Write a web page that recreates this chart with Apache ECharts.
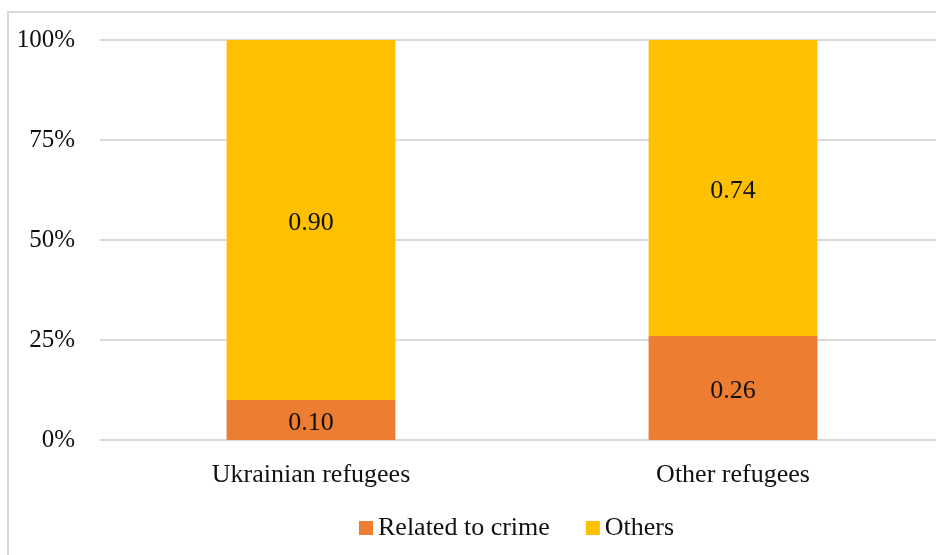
<!DOCTYPE html>
<html>
<head>
<meta charset="utf-8">
<script src="https://cdn.jsdelivr.net/npm/echarts@6/dist/echarts.min.js"></script>
<style>
  html, body { margin: 0; padding: 0; background: #fff; }
  #chart { width: 936px; height: 555px; }
</style>
</head>
<body>
<div id="chart"></div>
<script>
const categories = ['Ukrainian refugees', 'Other refugees']
const crimeValues = [0.10, 0.26]
const otherValues = [0.90, 0.74]
const seriesNames = ['Related to crime', 'Others']

const font = '"Liberation Serif", "Times New Roman", serif'
const chart = echarts.init(document.getElementById('chart'))

const barLabel = {
  show: true,
  position: 'inside',
  offset: [0, 3],
  fontFamily: font,
  fontSize: 26,
  color: '#111',
  formatter: function (p) {
    return p.value.toFixed(2)
  }
}

const option = {
  animation: false,
  textStyle: { fontFamily: font },
  graphic: [
    {
      type: 'rect',
      shape: { x: 8, y: 12, width: 1000, height: 600 },
      style: { fill: 'none', stroke: '#d9d9d9', lineWidth: 2 },
      silent: true
    }
  ],
  grid: {
    left: 100,
    width: 844,
    top: 40,
    bottom: 115,
    containLabel: false,
    outerBoundsMode: 'none'
  },
  legend: {
    left: 354,
    top: 510,
    icon: 'rect',
    itemWidth: 14,
    itemHeight: 14,
    itemGap: 36,
    textStyle: { fontFamily: font, fontSize: 26, color: '#111' },
    data: seriesNames
  },
  xAxis: {
    type: 'category',
    data: categories,
    axisLine: { show: false },
    axisTick: { show: false },
    axisLabel: { fontFamily: font, fontSize: 26, color: '#111', margin: 22 }
  },
  yAxis: {
    type: 'value',
    min: 0,
    max: 1,
    interval: 0.25,
    axisLine: { show: false },
    axisTick: { show: false },
    axisLabel: {
      fontFamily: font,
      fontSize: 25,
      color: '#111',
      margin: 25,
      padding: [5, 0, 0, 0],
      formatter: function (v) {
        return Math.round(v * 100) + '%'
      }
    },
    splitLine: { lineStyle: { color: '#d9d9d9', width: 2 } }
  },
  series: [
    {
      name: seriesNames[0],
      type: 'bar',
      stack: 'total',
      barWidth: '40%',
      data: crimeValues,
      itemStyle: { color: '#ED7D31' },
      label: barLabel
    },
    {
      name: seriesNames[1],
      type: 'bar',
      stack: 'total',
      barWidth: '40%',
      data: otherValues,
      itemStyle: { color: '#FFC000' },
      label: barLabel
    }
  ]
}

chart.setOption(option)
</script>
</body>
</html>
